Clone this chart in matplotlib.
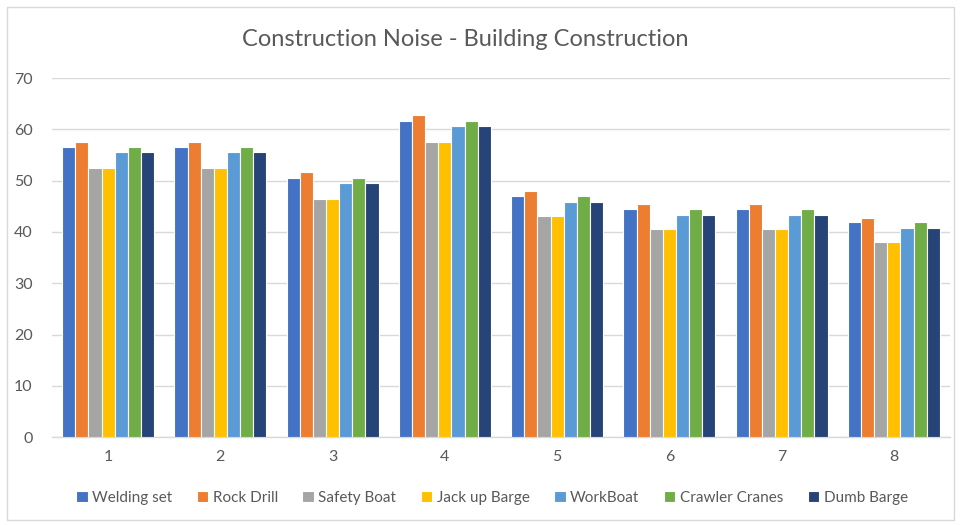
import matplotlib
matplotlib.use("Agg")
import matplotlib.pyplot as plt
import numpy as np
from matplotlib.patches import Rectangle

plt.rcParams['font.family'] = ['Lato', 'DejaVu Sans']

categories = ["1", "2", "3", "4", "5", "6", "7", "8"]
series_names = ["Welding set", "Rock Drill", "Safety Boat", "Jack up Barge",
                "WorkBoat", "Crawler Cranes", "Dumb Barge"]
welding_set   = [56.5, 56.5, 50.5, 61.6, 47.1, 44.5, 44.5, 42.0]
rock_drill    = [57.6, 57.6, 51.6, 62.7, 48.0, 45.4, 45.4, 42.8]
safety_boat   = [52.5, 52.5, 46.5, 57.6, 43.1, 40.5, 40.5, 38.0]
jack_up_barge = [52.5, 52.5, 46.5, 57.6, 43.1, 40.5, 40.5, 38.0]
workboat      = [55.6, 55.6, 49.6, 60.7, 45.9, 43.4, 43.4, 40.8]
crawler_crane = [56.5, 56.5, 50.5, 61.6, 47.1, 44.5, 44.5, 42.0]
dumb_barge    = [55.6, 55.6, 49.6, 60.7, 45.9, 43.4, 43.4, 40.8]
series_values = [welding_set, rock_drill, safety_boat, jack_up_barge,
                 workboat, crawler_crane, dumb_barge]
colors = ["#4472C4", "#ED7D31", "#A5A5A5", "#FFC000", "#5B9BD5", "#70AD47", "#264478"]
yticks = [0, 10, 20, 30, 40, 50, 60, 70]

fig = plt.figure(figsize=(9.61, 5.25), dpi=100)
ax = fig.add_axes([52/961, 1-437.3/525, (950-52)/961, (437.3-78)/525])

x = np.arange(len(categories))
n = len(series_values)
pitch = 0.117
width = pitch
for i, (name, vals, c) in enumerate(zip(series_names, series_values, colors)):
    offs = (i - (n - 1) / 2) * pitch
    ax.bar(x + offs, vals, width=width, color=c, label=name,
           edgecolor="white", linewidth=0.8, zorder=3)

ax.set_xlim(-0.5, len(categories) - 0.5)
ax.set_ylim(0, 70)
ax.set_yticks(yticks)
ax.set_xticks(x)
ax.set_xticklabels(categories)
ax.tick_params(axis='both', length=0, labelsize=11.5, colors="#595959")
ax.tick_params(axis='x', pad=9)
ax.tick_params(axis='y', pad=14)
for lbl in ax.get_yticklabels():
    lbl.set_horizontalalignment('right')
ax.grid(axis='y', color="#d9d9d9", linewidth=1, zorder=0)
for s in ["top", "right", "left"]:
    ax.spines[s].set_visible(False)
ax.spines["bottom"].set_color("#d9d9d9")
ax.spines["bottom"].set_linewidth(1)

fig.text(465/961, 1-40/525, "Construction Noise - Building Construction",
         ha="center", va="center", fontsize=17, color="#595959")

leg = fig.legend(loc="center", bbox_to_anchor=(492/961, 1-498/525), ncol=7,
                 frameon=False, fontsize=11, handlelength=0.75, handleheight=0.75,
                 handletextpad=0.3, columnspacing=1.6, labelcolor="#595959")

fig.patches.append(Rectangle((7/961, 5/525), (954-7)/961, (518-5)/525,
                             transform=fig.transFigure, fill=False,
                             edgecolor="#d9d9d9", linewidth=1))

fig.savefig("out.png", dpi=100, facecolor="white")
